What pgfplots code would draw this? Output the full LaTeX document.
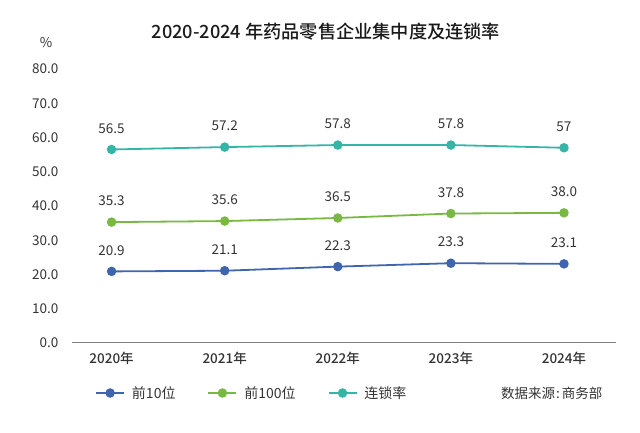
\documentclass[border=0pt]{standalone}
\usepackage{fontspec}
\setmainfont{Noto Sans CJK SC}
\newfontfamily\mediumfont{Noto Sans CJK SC Medium}
\usepackage{pgfplots}
\pgfplotsset{compat=1.18}
\definecolor{cblue}{HTML}{3F65AF}
\definecolor{cgreen}{HTML}{78B843}
\definecolor{cteal}{HTML}{36B5A6}
\definecolor{ctext}{HTML}{333333}
\definecolor{ctitle}{HTML}{1A1A1A}
\definecolor{caxis}{HTML}{808080}
\begin{document}
\begin{tikzpicture}[x=1pt,y=1pt]
\path[use as bounding box] (-72,-90) rectangle (568,343);
\begin{axis}[
  at={(0pt,0pt)}, anchor=south west,
  scale only axis, width=544pt, height=274pt,
  xmin=-0.35, xmax=4.46, ymin=0, ymax=80,
  axis x line=bottom, axis y line=left,
  x axis line style={draw=caxis, line width=1pt, -},
  y axis line style={draw=none},
  major tick length=0pt,
  xtick={0,1,2,3,4},
  xticklabels={2020年,2021年,2022年,2023年,2024年},
  xticklabel style={font=\fontsize{13.5}{15}\mediumfont, text=ctext, yshift=-6pt},
  ytick={0,10,...,80},
  yticklabel style={font=\fontsize{13.5}{15}\selectfont, text=ctext, anchor=east, xshift=-10pt},
  /pgf/number format/assume math mode=true,
  /pgf/number format/.cd, fixed, fixed zerofill, precision=1, /pgfplots/.cd,
  clip=false,
  legend columns=3,
  legend style={at={(20pt,-50pt)}, anchor=west, draw=none, fill=none,
    font=\fontsize{14}{16}\selectfont, text=ctext,
    /tikz/every odd column/.append style={column sep=5pt},
    /tikz/every even column/.append style={column sep=30pt}},
  legend image code/.code={
    \draw[#1, mark repeat=2, mark phase=2] plot coordinates {(0pt,0pt) (14pt,0pt) (28pt,0pt)};
  },
  every axis plot/.append style={line width=1.8pt, mark=*, mark size=3.8pt},
  nodes near coords,
  point meta=explicit symbolic,
  nodes near coords style={font=\fontsize{13.5}{15}\selectfont, text=ctext, anchor=south, yshift=12pt},
]
\addplot[color=cblue, mark options={fill=cblue, draw=cblue}] coordinates {
  (0,20.9) [20.9] (1,21.1) [21.1] (2,22.3) [22.3] (3,23.3) [23.3] (4,23.1) [23.1]};
\addlegendentry{前10位}
\addplot[color=cgreen, mark options={fill=cgreen, draw=cgreen}] coordinates {
  (0,35.3) [35.3] (1,35.6) [35.6] (2,36.5) [36.5] (3,37.8) [37.8] (4,38.0) [38.0]};
\addlegendentry{前100位}
\addplot[color=cteal, mark options={fill=cteal, draw=cteal}] coordinates {
  (0,56.5) [56.5] (1,57.2) [57.2] (2,57.8) [57.8] (3,57.8) [57.8] (4,57.0) [57]};
\addlegendentry{连锁率}
\end{axis}
\node[font=\fontsize{13.5}{15}\selectfont, text=ctext] at (-26,300) {\%};
\node[font=\fontsize{18.2}{21}\mediumfont, text=ctitle] at (254,311) {2020-2024 年药品零售企业集中度及连锁率};
\node[font=\fontsize{13.5}{15}\selectfont, text=ctext, anchor=east] at (534,-50) {数据来源\hspace{1pt}:\hspace{2pt}商务部};
\end{tikzpicture}
\end{document}
